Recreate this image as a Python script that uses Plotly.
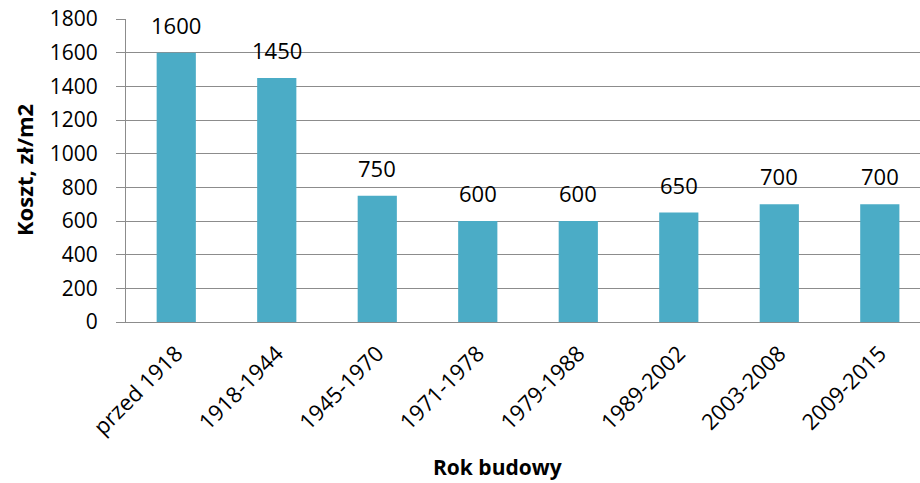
import plotly.graph_objects as go

# Cost of building by construction period
categories = ["przed 1918", "1918-1944", "1945-1970", "1971-1978",
              "1979-1988", "1989-2002", "2003-2008", "2009-2015"]
costs = [1600, 1450, 750, 600, 600, 650, 700, 700]
y_ticks = [0, 200, 400, 600, 800, 1000, 1200, 1400, 1600, 1800]

BAR_COLOR = "#4BACC6"
GRID_COLOR = "#8C8C8C"
FONT = "Open Sans"

W, H = 920, 483
L, R, T, B = 126, 0, 19, 161


def px_to_paper(px, py):
    """Pixel position in the page -> paper coordinates."""
    return (px - L) / (W - L - R), 1 - (py - T) / (H - T - B)


fig = go.Figure()
fig.add_trace(go.Bar(
    x=list(range(len(categories))),
    y=costs,
    width=0.39,
    marker=dict(color=BAR_COLOR, line=dict(width=0)),
    hoverinfo="skip",
))

# value labels above the bars
for i, v in enumerate(costs):
    fig.add_annotation(
        x=i, y=v, text=str(v), showarrow=False,
        xref="x", yref="y", yanchor="middle", yshift=28,
        font=dict(family=FONT, size=22, color="#000000"),
    )

# axis titles
xt_x, xt_y = px_to_paper(497, 467)
fig.add_annotation(
    x=xt_x, y=xt_y, xref="paper", yref="paper", xanchor="center", yanchor="middle",
    text="<b>Rok budowy</b>", showarrow=False,
    font=dict(family=FONT, size=21, color="#000000"),
)
yt_x, yt_y = px_to_paper(24, 170)
fig.add_annotation(
    x=yt_x, y=yt_y, xref="paper", yref="paper", xanchor="center", yanchor="middle",
    text="<b>Koszt, zł/m2</b>", textangle=-90, showarrow=False,
    font=dict(family=FONT, size=22, color="#000000"),
)

fig.update_layout(
    width=W, height=H,
    margin=dict(l=L, r=R, t=T, b=B, pad=0),
    paper_bgcolor="white", plot_bgcolor="white",
    showlegend=False,
    font=dict(family=FONT, size=21, color="#000000"),
    xaxis=dict(
        tickmode="array",
        tickvals=list(range(len(categories))),
        ticktext=categories,
        tickangle=-45,
        range=[-0.5, 7.4],
        showgrid=False, zeroline=False,
        showline=True, linecolor=GRID_COLOR, linewidth=1,
        ticks="",
        ticklabelstandoff=9,
        tickfont=dict(family=FONT, size=22),
    ),
    yaxis=dict(
        tickmode="array",
        tickvals=y_ticks,
        range=[0, 1800],
        showgrid=True, gridcolor=GRID_COLOR, gridwidth=1,
        zeroline=False,
        showline=True, linecolor=GRID_COLOR, linewidth=1,
        ticks="outside", ticklen=9, tickcolor=GRID_COLOR,
        ticklabelstandoff=14,
        tickfont=dict(family=FONT, size=21),
    ),
)

fig.write_html("out.html")
